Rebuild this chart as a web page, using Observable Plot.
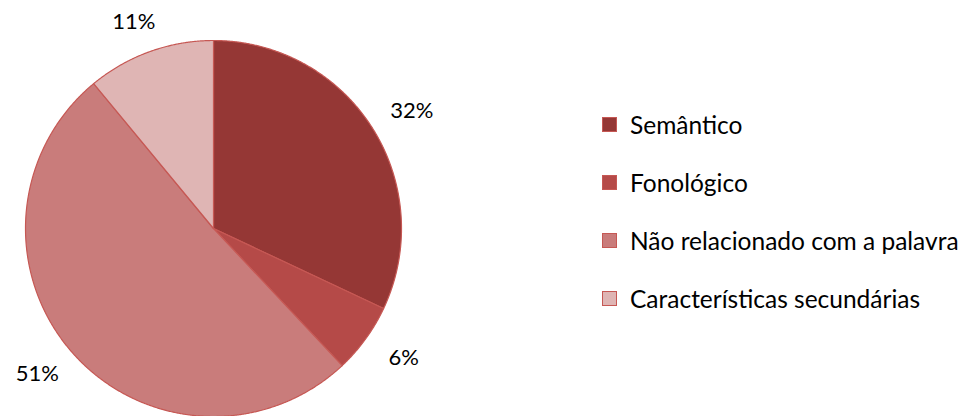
<!DOCTYPE html>
<html>
<head>
<meta charset="utf-8">
<script src="https://cdn.jsdelivr.net/npm/d3@7"></script>
<script src="https://cdn.jsdelivr.net/npm/@observablehq/plot@0.6"></script>
<style>
  body { margin: 0; background: #fff; }
  #wrap { position: relative; width: 971px; height: 416px; overflow: hidden; }
  #wrap svg { position: absolute; left: 0; top: 0; }
  #legend { position: absolute; left: 602px; top: 95px; font-family: Lato, "Open Sans", sans-serif; font-size: 24.5px; color: #000; }
  .item { display: flex; align-items: center; height: 58px; margin-top: 0; white-space: nowrap; }
  .sw { width: 15px; height: 15px; flex: none; box-sizing: border-box; border: 1px solid #c65854; margin-right: 13px; }
</style>
</head>
<body>
<div id="wrap"><div id="legend"></div></div>
<script>
const categories = ["Semântico", "Fonológico", "Não relacionado com a palavra", "Características secundárias"];
const values = [32, 6, 51, 11];
const valueLabels = ["32%", "6%", "51%", "11%"];
const colors = ["#953735", "#b54a48", "#c97c7b", "#dfb5b4"];

const arcs = d3.pie().sort(null).value(d => d)(values);

const marks = [];
arcs.forEach((a, i) => {
  const pts = [{x: 0, y: 0}];
  const n = Math.max(4, Math.ceil((a.endAngle - a.startAngle) / 0.005));
  for (let k = 0; k <= n; k++) {
    const t = a.startAngle + (a.endAngle - a.startAngle) * k / n;
    pts.push({x: Math.sin(t), y: Math.cos(t)});
  }
  pts.push({x: 0, y: 0});
  marks.push(Plot.line(pts, {x: "x", y: "y", fill: colors[i], stroke: "#c65854", strokeWidth: 1.2, strokeLinejoin: "round"}));
});

// labels sit outside the rim; wider text boxes need more horizontal clearance
const labelRx = 1.25, labelRy = 1.17;
const labelData = arcs.map((a, i) => {
  const m = (a.startAngle + a.endAngle) / 2;
  return {x: labelRx * Math.sin(m), y: labelRy * Math.cos(m), text: valueLabels[i]};
});
marks.push(Plot.text(labelData, {x: "x", y: "y", text: "text", fontSize: 22, fontFamily: "Lato, 'Open Sans', sans-serif", fill: "#000", textAnchor: "middle"}));

const chart = Plot.plot({
  width: 971,
  height: 416,
  margin: 0,
  x: {domain: [-1, 1], range: [25, 401], axis: null},
  y: {domain: [-1, 1], range: [416, 40], axis: null},
  marks
});
document.getElementById("wrap").prepend(chart);

const legend = document.getElementById("legend");
categories.forEach((c, i) => {
  const row = document.createElement("div");
  row.className = "item";
  const sw = document.createElement("div");
  sw.className = "sw";
  sw.style.background = colors[i];
  const lab = document.createElement("span");
  lab.textContent = c;
  row.appendChild(sw);
  row.appendChild(lab);
  legend.appendChild(row);
});
</script>
</body>
</html>
